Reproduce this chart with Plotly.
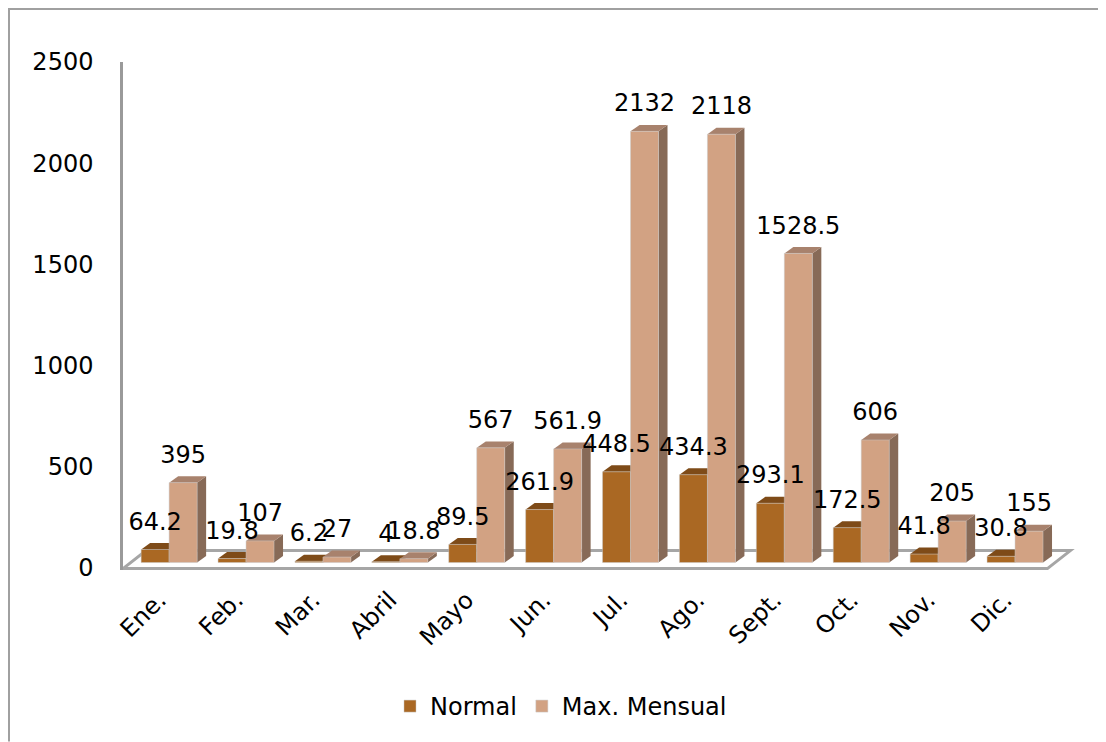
import plotly.graph_objects as go

# ---- data ----
months = ["Ene.", "Feb.", "Mar.", "Abril", "Mayo", "Jun.", "Jul.", "Ago.",
          "Sept.", "Oct.", "Nov.", "Dic."]
normal = [64.2, 19.8, 6.2, 4, 89.5, 261.9, 448.5, 434.3, 293.1, 172.5, 41.8, 30.8]
max_mensual = [395, 107, 27, 18.8, 567, 561.9, 2132, 2118, 1528.5, 606, 205, 155]
series_names = ["Normal", "Max. Mensual"]
y_ticks = [0, 500, 1000, 1500, 2000, 2500]

# ---- style ----
FONT = "DejaVu Sans"
FS = 24
BW = 0.364          # bar width (category units)
DX = 0.117          # 3D depth, x (category units)
DY = 32             # 3D depth, y (value units)
LIFT = 25           # bars stand slightly back on the floor
LABEL_GAP = 128     # label centre above bar front top (value units)
front_cols = ["#AA6823", "#D2A283"]
top_cols = ["#7E4B18", "#A8826D"]
side_cols = ["#6E4214", "#876A57"]

# page offset (browser body margin) and layout in screen pixels
OFF = 8
W, H = 1106 - OFF, 742 - OFF
L_PX, R_PX, T_PX, B_PX = 123 - OFF, 1080 - OFF, 62 - OFF, 570.4 - OFF

idx = list(range(len(months)))
offsets = [-BW, 0.0]
values = [normal, max_mensual]

fig = go.Figure()
shapes = []

# floor (parallelogram) drawn first
n = len(months)
fl_left, fl_right, fl_dx = -0.6, n - 1 + 0.42, 0.3
fl_front, fl_back = -5, 84
shapes.append(dict(
    type="path", xref="x", yref="y", layer="below",
    path=f"M {fl_left},{fl_front} L {fl_right},{fl_front} L {fl_right+fl_dx},{fl_back} "
         f"L {fl_left+fl_dx},{fl_back} Z",
    fillcolor="white", line=dict(color="#A6A6A6", width=3)))

for s in range(2):
    for i, v in zip(idx, values[s]):
        x0 = i + offsets[s]
        x1 = x0 + BW
        b = LIFT
        t = LIFT + v
        shapes.append(dict(
            type="path", xref="x", yref="y", layer="below",
            path=f"M {x1},{b} L {x1+DX},{b+DY} L {x1+DX},{t+DY} L {x1},{t} Z",
            fillcolor=side_cols[s], line=dict(width=0)))
        shapes.append(dict(
            type="path", xref="x", yref="y", layer="below",
            path=f"M {x0},{t} L {x0+DX},{t+DY} L {x1+DX},{t+DY} L {x1},{t} Z",
            fillcolor=top_cols[s], line=dict(width=0)))

for s in range(2):
    fig.add_trace(go.Bar(
        x=idx, y=values[s], base=LIFT, width=BW, offset=offsets[s],
        name=series_names[s],
        marker=dict(color=front_cols[s], line=dict(color="rgba(200,200,200,0.6)", width=0.8)),
    ))

for s in range(2):
    fig.add_trace(go.Scatter(
        x=[i + offsets[s] + BW / 2 for i in idx],
        y=[LIFT + v + LABEL_GAP for v in values[s]],
        text=[f"{v:g}" for v in values[s]],
        mode="text", textposition="middle center",
        textfont=dict(family=FONT, size=FS, color="#000000"),
        showlegend=False, hoverinfo="skip", cliponaxis=False,
    ))

def px_x(p):
    return (p - OFF - L_PX) / (R_PX - L_PX)
def px_y(p):
    return (B_PX - (p - OFF)) / (B_PX - T_PX)

frame = dict(color="#A0A0A0", width=2)
shapes.append(dict(type="line", xref="paper", yref="paper", layer="above",
                   x0=px_x(8), x1=px_x(1106), y0=px_y(9), y1=px_y(9), line=frame))
shapes.append(dict(type="line", xref="paper", yref="paper", layer="above",
                   x0=px_x(9), x1=px_x(9), y0=px_y(9), y1=px_y(742), line=frame))

x_range = [-0.6, -0.6 + (R_PX - L_PX) / 76.9]

fig.update_layout(
    width=W, height=H,
    margin=dict(l=L_PX, r=W - R_PX, t=T_PX, b=H - B_PX, pad=0),
    paper_bgcolor="white", plot_bgcolor="white",
    barmode="overlay",
    font=dict(family=FONT, size=FS, color="#000000"),
    shapes=shapes,
    showlegend=True,
    legend=dict(orientation="h", x=px_x(561), xanchor="center",
                y=px_y(707), yanchor="middle",
                font=dict(family=FONT, size=FS), itemwidth=30,
                traceorder="normal"),
    xaxis=dict(range=x_range, tickvals=idx, ticktext=months, tickangle=-45,
               showgrid=False, zeroline=False, showline=False, ticks="",
               ticklabelstandoff=10, ticklabelshift=-10,
               tickfont=dict(family=FONT, size=FS)),
    yaxis=dict(range=[-12, 2500], tickvals=y_ticks, showgrid=False,
               zeroline=False, showline=True, linecolor="#9A9A9A", linewidth=2.5,
               ticks="", ticklabelstandoff=22, tickfont=dict(family=FONT, size=FS)),
)

fig.write_html("out.html")
